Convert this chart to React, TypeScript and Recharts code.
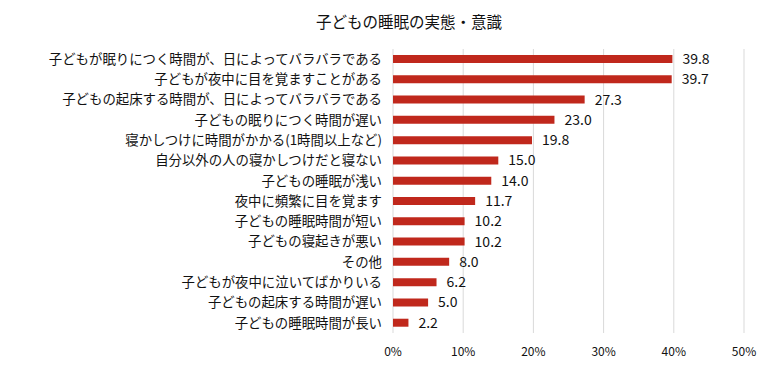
import { BarChart, Bar, XAxis, YAxis, CartesianGrid, LabelList } from 'recharts';

const categories = [
  '子どもが眠りにつく時間が、日によってバラバラである',
  '子どもが夜中に目を覚ますことがある',
  '子どもの起床する時間が、日によってバラバラである',
  '子どもの眠りにつく時間が遅い',
  '寝かしつけに時間がかかる(1時間以上など)',
  '自分以外の人の寝かしつけだと寝ない',
  '子どもの睡眠が浅い',
  '夜中に頻繁に目を覚ます',
  '子どもの睡眠時間が短い',
  '子どもの寝起きが悪い',
  'その他',
  '子どもが夜中に泣いてばかりいる',
  '子どもの起床する時間が遅い',
  '子どもの睡眠時間が長い',
];

const values = [39.8, 39.7, 27.3, 23.0, 19.8, 15.0, 14.0, 11.7, 10.2, 10.2, 8.0, 6.2, 5.0, 2.2];

const xTicks = [0, 10, 20, 30, 40, 50];

const title = '子どもの睡眠の実態・意識';

const font = '"Noto Sans CJK JP", "Noto Sans", sans-serif';

export default function App() {
  const data = categories.map((name, i) => ({ name, value: values[i] }));

  return (
    <div style={{ position: 'absolute', left: 0, top: 0, width: 780, height: 382, background: '#fff', fontFamily: font }}>
      <div style={{ position: 'absolute', top: 10, left: 0, width: 818, textAlign: 'center', fontSize: 15.5, color: '#111' }}>
        {title}
      </div>
      <BarChart
        width={780}
        height={382}
        data={data}
        layout="vertical"
        margin={{ top: 49, right: 36, bottom: 19, left: 0 }}
        barCategoryGap={6}
      >
        <CartesianGrid horizontal={false} stroke="#d9d9d9" />
        <XAxis
          type="number"
          domain={[0, 50]}
          ticks={xTicks}
          tickFormatter={(v) => `${v}%`}
          axisLine={false}
          tickLine={false}
          height={30}
          tickMargin={8}
          tick={{ fontSize: 12, fill: '#111', fontFamily: font }}
        />
        <YAxis
          type="category"
          dataKey="name"
          width={393}
          axisLine={false}
          tickLine={false}
          tickMargin={5}
          interval={0}
          tick={{ fontSize: 13.4, fill: '#111', fontFamily: font }}
        />
        <Bar dataKey="value" fill="#C0281C" barSize={8} isAnimationActive={false}>
          <LabelList
            dataKey="value"
            position="right"
            offset={10}
            formatter={(v: number) => v.toFixed(1)}
            style={{ fontSize: 14, fill: '#111', fontFamily: font }}
          />
        </Bar>
      </BarChart>
    </div>
  );
}
